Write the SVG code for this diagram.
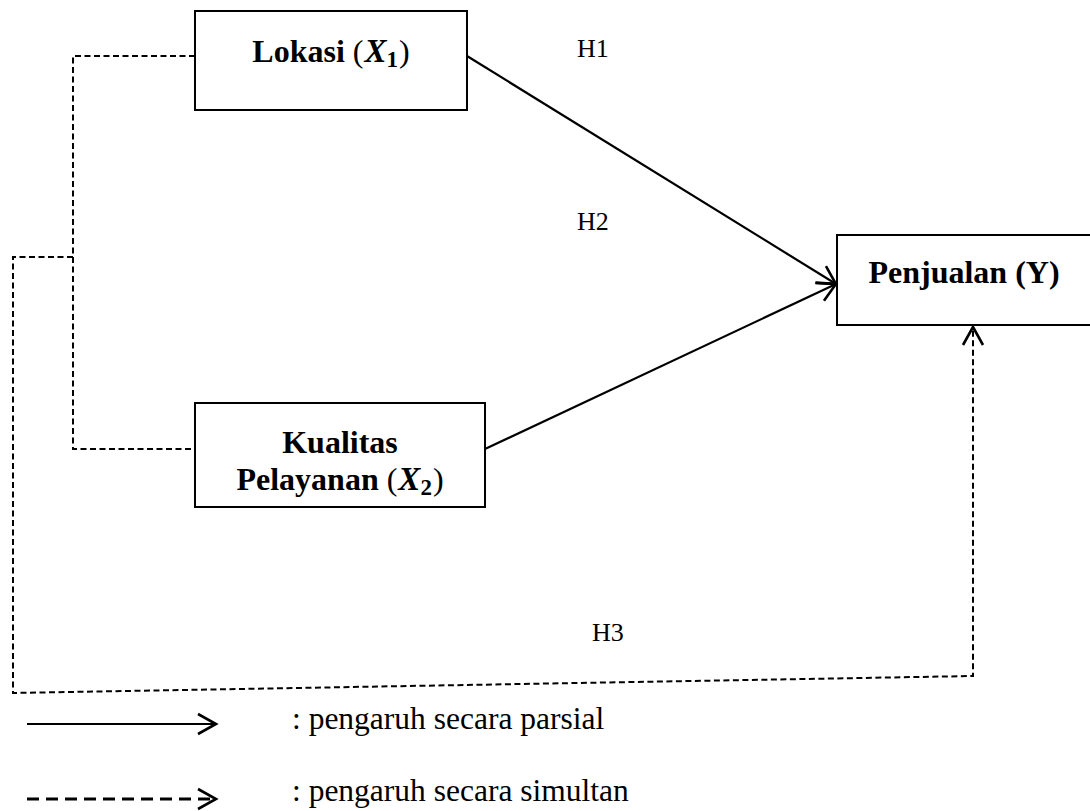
<svg xmlns="http://www.w3.org/2000/svg" width="1090" height="811" viewBox="0 0 1090 811">
<style>
.box{fill:#fff;stroke:#000;stroke-width:2}
.lbl{font-family:"Liberation Serif","Times New Roman",serif;font-weight:bold;font-size:32px;fill:#000;text-anchor:middle}
.mx{font-style:italic;font-size:33px}
.mp{font-weight:normal}
.h{font-family:"Liberation Serif","Times New Roman",serif;font-size:26px;fill:#000}
.leg{font-family:"Liberation Serif","Times New Roman",serif;font-size:31.5px;fill:#000}
.solid{fill:none;stroke:#000;stroke-width:2.2}
.dash{fill:none;stroke:#000;stroke-width:2;stroke-dasharray:6 3.5}
.dashleg{fill:none;stroke:#000;stroke-width:3;stroke-dasharray:12 7}
</style>
<defs>
<marker id="arr" markerUnits="userSpaceOnUse" markerWidth="24" markerHeight="24" refX="20" refY="10" orient="auto" overflow="visible">
<path d="M2,0 L20,10 L2,20" fill="none" stroke="#000" stroke-width="2.6"/>
</marker>
</defs>
<g id="connectors">
<line class="solid" x1="467" y1="56" x2="836" y2="284" marker-end="url(#arr)"/>
<line class="solid" x1="485" y1="449" x2="836" y2="284" marker-end="url(#arr)"/>
<path class="dash" d="M195,56 H73 V449 H195"/>
<path class="dash" d="M73,257 H13 V693 L973,676 V327" marker-end="url(#arr)"/>
</g>
<g id="lokasi">
<rect class="box" x="195" y="11" width="272" height="99"/>
<text class="lbl" x="331" y="62">Lokasi <tspan class="mp">(</tspan><tspan class="mx" dx="1">X</tspan><tspan font-size="23" dy="5">1</tspan><tspan class="mp" dy="-5" dx="1">)</tspan></text>
</g>
<g id="kualitas">
<rect class="box" x="195" y="403" width="290" height="104"/>
<text class="lbl" x="340" y="453">Kualitas</text>
<text class="lbl" x="340" y="490">Pelayanan <tspan class="mp">(</tspan><tspan class="mx" dx="1">X</tspan><tspan font-size="23" dy="5">2</tspan><tspan class="mp" dy="-5" dx="1">)</tspan></text>
</g>
<g id="penjualan">
<rect class="box" x="837" y="235" width="256" height="90"/>
<text class="lbl" x="964" y="283">Penjualan (Y)</text>
</g>
<g id="labels">
<text class="h" x="577" y="57">H1</text>
<text class="h" x="577" y="230">H2</text>
<text class="h" x="592" y="641">H3</text>
</g>
<g id="legend">
<line class="solid" x1="27" y1="724" x2="216" y2="724" marker-end="url(#arr)"/>
<line class="dashleg" x1="27" y1="799" x2="216" y2="799" marker-end="url(#arr)"/>
<text class="leg" x="292" y="729">: pengaruh secara parsial</text>
<text class="leg" x="292" y="801">: pengaruh secara simultan</text>
</g>
</svg>
